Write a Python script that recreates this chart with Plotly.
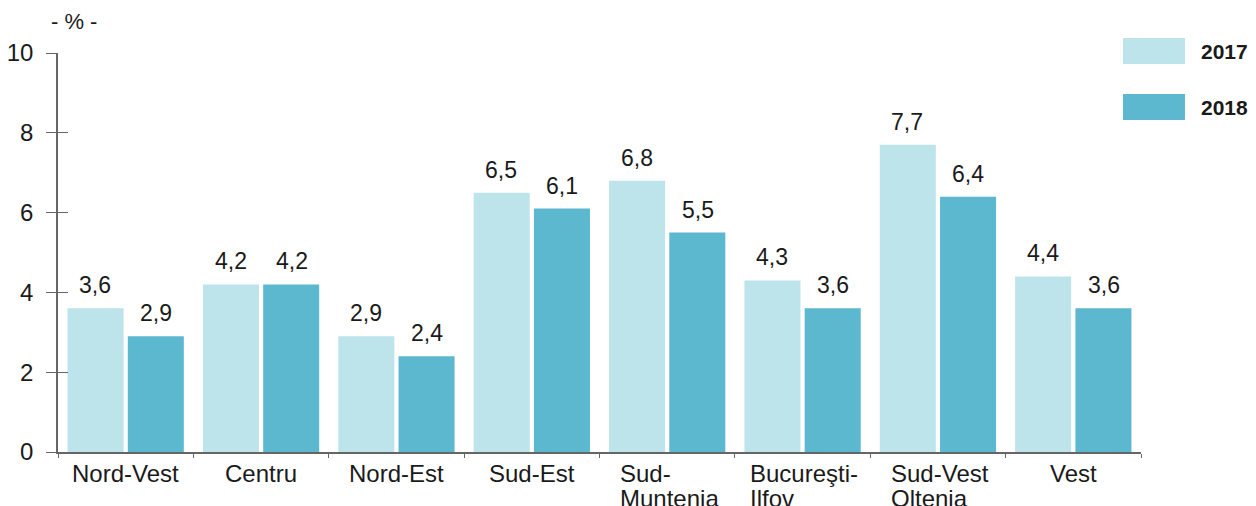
import plotly.graph_objects as go

regions = ["Nord-Vest", "Centru", "Nord-Est", "Sud-Est", "Sud-Muntenia",
           "Bucureşti-Ilfov", "Sud-Vest Oltenia", "Vest"]
label_line1 = ["Nord-Vest", "Centru", "Nord-Est", "Sud-Est", "Sud-",
               "Bucureşti-", "Sud-Vest", "Vest"]
label_line2 = ["", "", "", "", "Muntenia", "Ilfov", "Oltenia", ""]
v2017 = [3.6, 4.2, 2.9, 6.5, 6.8, 4.3, 7.7, 4.4]
v2018 = [2.9, 4.2, 2.4, 6.1, 5.5, 3.6, 6.4, 3.6]
years = ["2017", "2018"]
colors = ["#bde3eb", "#5bb8ce"]
y_ticks = [0, 2, 4, 6, 8, 10]

FONT = "Liberation Sans, Arial, sans-serif"
TXT = "#1a1a1a"
AX = "#666666"
LBL = 24

fig = go.Figure()
for name, vals, col in zip(years, [v2017, v2018], colors):
    fig.add_trace(go.Bar(x=list(range(len(regions))), y=vals, name=name,
                         marker=dict(color=col, line=dict(width=0)),
                         showlegend=False,
                         hovertext=regions))

ann = []
off = 0.225
for i, (a, b) in enumerate(zip(v2017, v2018)):
    for dx, v in ((-off, a), (off, b)):
        ann.append(dict(x=i + dx, y=v, xref="x", yref="y", text=f"{v:.1f}".replace(".", ","),
                        showarrow=False, yanchor="bottom", yshift=8,
                        font=dict(family=FONT, size=23, color=TXT)))


def text_w(s, size):
    # rough Arial advance widths
    w = {"-": .333, "i": .222, "l": .222, "t": .278, "f": .278, "r": .333, "s": .5,
         "ş": .5, "y": .5, "S": .667, "V": .667, "M": .833, "O": .778, "B": .667, "I": .278,
         "N": .722, "C": .722, "E": .667, " ": .278}
    return sum(w.get(c, .556) for c in s) * size


for i, (l1, l2) in enumerate(zip(label_line1, label_line2)):
    if not l2:
        ann.append(dict(x=i, y=0, xref="x", yref="y", text=l1, showarrow=False,
                        xanchor="center", yanchor="top", yshift=-6,
                        font=dict(family=FONT, size=LBL, color=TXT)))
    else:
        half = max(text_w(l1, LBL), text_w(l2, LBL)) / 2
        for k, t in enumerate((l1, l2)):
            ann.append(dict(x=i, y=0, xref="x", yref="y", text=t, showarrow=False,
                            xanchor="left", yanchor="top", xshift=-half, yshift=-6 - 25 * k,
                            font=dict(family=FONT, size=LBL, color=TXT)))

ann.append(dict(x=0.0148, y=1.078, xref="paper", yref="paper", text="- % -", showarrow=False,
                xanchor="center", yanchor="middle", font=dict(family=FONT, size=22, color=TXT)))

# legend (custom)
shapes = []
leg_y = [(1.0376, 0.9724), (0.8972, 0.8321)]
for (y0, y1), col, name in zip(leg_y, colors, years):
    shapes.append(dict(type="rect", xref="paper", yref="paper", x0=0.9834, x1=1.0406,
                       y0=y1, y1=y0, fillcolor=col, line=dict(width=0)))
    ann.append(dict(x=1.0535, y=(y0 + y1) / 2, xref="paper", yref="paper", text=f"<b>{name}</b>",
                    showarrow=False, xanchor="left", yanchor="middle",
                    font=dict(family=FONT, size=21, color=TXT)))

fig.update_layout(
    width=1248, height=498,
    margin=dict(l=50, r=115, t=45, b=54, autoexpand=False),
    paper_bgcolor="white", plot_bgcolor="white",
    barmode="group", bargap=0.11, bargroupgap=0.07,
    annotations=ann, shapes=shapes,
    xaxis=dict(range=[-0.5, 7.5], tickmode="array", tickvals=[i + 0.5 for i in range(-1, 8)],
               showticklabels=False, ticks="outside", ticklen=4, tickcolor=AX,
               showline=True, linecolor=AX, linewidth=1.5, showgrid=False, zeroline=False),
    yaxis=dict(range=[0, 10], tickvals=y_ticks, ticktext=[str(t) for t in y_ticks],
               ticks="outside", ticklen=10, tickcolor=AX, tickwidth=1.2,
               ticklabelstandoff=8,
               showline=True, linecolor=AX, linewidth=1.5, showgrid=False, zeroline=False,
               tickfont=dict(family=FONT, size=24, color=TXT)),
    yaxis2=dict(range=[0, 10], overlaying="y", side="left", tickvals=y_ticks,
                ticks="inside", ticklen=10, tickcolor=AX, tickwidth=1.2,
                showticklabels=False, showline=False, showgrid=False, zeroline=False),
)
fig.add_trace(go.Scatter(x=[0], y=[0], yaxis="y2", mode="markers", opacity=0,
                         showlegend=False, hoverinfo="skip"))
fig.write_html("out.html")
